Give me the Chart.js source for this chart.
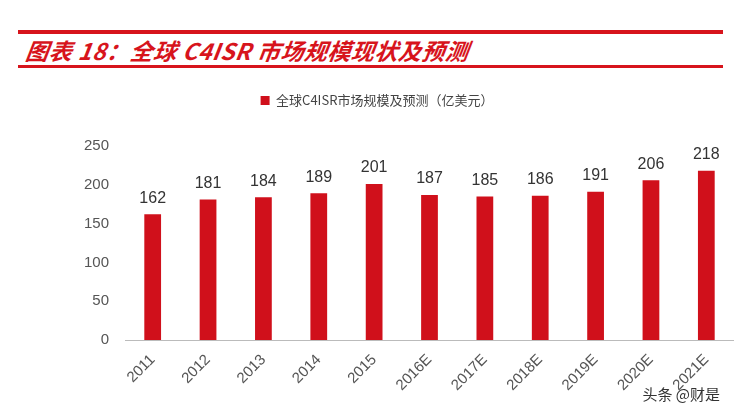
<!DOCTYPE html>
<html><head><meta charset="utf-8">
<script src="https://cdn.jsdelivr.net/npm/chart.js@4/dist/chart.umd.min.js"></script>
<style>
body{margin:0;background:#fff;font-family:"Noto Sans CJK SC",sans-serif}
#wrap{position:relative;width:734px;height:412px}
.ln{position:absolute;left:18px;width:705px;background:#d7141c}
#t{position:absolute;left:26px;top:33px;font-size:23px;font-weight:bold;font-style:italic;color:#d7141c;transform:skewX(-8deg);letter-spacing:0.5px}
#wm{position:absolute;right:14px;bottom:8px;font-size:15px;color:#333}
canvas{position:absolute;left:0;top:0}
</style></head><body>
<div id="wrap">
<div class="ln" style="top:30px;height:4px"></div>
<div class="ln" style="top:65px;height:3px"></div>
<div id="t">图表 18：全球 C4ISR 市场规模现状及预测</div>
<canvas id="c" width="734" height="412"></canvas>
<div id="wm">头条 @财是</div>
</div>
<script>
const categories=["2011","2012","2013","2014","2015","2016E","2017E","2018E","2019E","2020E","2021E"];
const values=[162,181,184,189,201,187,185,186,191,206,218];
const seriesName="全球C4ISR市场规模及预测（亿美元）";
const labelsPlugin={id:'lbl',afterDatasetsDraw(ch){const c=ch.ctx;const m=ch.getDatasetMeta(0);c.save();c.font='16px "Liberation Sans", Arial';c.fillStyle='#333';c.textAlign='center';c.textBaseline='bottom';m.data.forEach((b,i)=>c.fillText(values[i],b.x,b.y-8));c.restore();}};
const legendPad={id:'lp',beforeInit(ch){const f=ch.legend.fit;ch.legend.fit=function(){f.bind(ch.legend)();this.height+=29;};}};
new Chart(document.getElementById('c'),{type:'bar',data:{labels:categories,datasets:[{label:seriesName,data:values,backgroundColor:'#d0101b',barPercentage:0.55,categoryPercentage:0.55}]},
options:{responsive:false,animation:false,layout:{padding:{top:84,right:0,left:20,bottom:0}},
plugins:{legend:{labels:{boxWidth:9,boxHeight:9,color:'#444',font:{size:13,family:'"Noto Sans CJK SC"'}},padding:0},tooltip:{enabled:false}},
scales:{y:{min:0,max:250,ticks:{stepSize:50,color:'#555',font:{size:15,family:'"Liberation Sans"'},padding:8},grid:{display:false},border:{display:false},afterFit(s){s.width=105;}},
x:{ticks:{color:'#555',font:{size:15,family:'"Liberation Sans"'},minRotation:45,maxRotation:45},grid:{display:false},border:{color:'#bbb'},afterFit(s){s.height=72;}}}},
plugins:[labelsPlugin,legendPad]});
</script></body></html>
